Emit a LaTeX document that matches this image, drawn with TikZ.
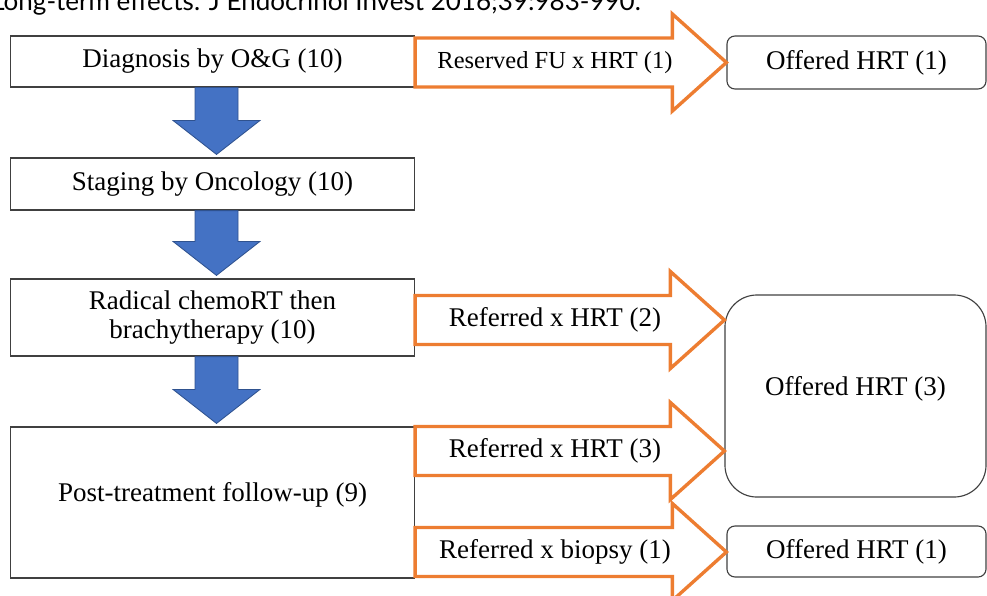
\documentclass[tikz,border=0pt]{standalone}
\usepackage{fontspec}
\setmainfont{Liberation Serif}
\newfontfamily\citefont{Lato}
\usetikzlibrary{calc, positioning}

\begin{document}
\begin{tikzpicture}[x=0.025cm, y=-0.025cm]

    \definecolor{borderColour}{HTML}{404040}
    \definecolor{blueFill}{HTML}{4472C4}
    \definecolor{blueBorder}{HTML}{2F528F}
    \definecolor{orangeLine}{HTML}{ED7D31}

    % Define the arrow sizes (layout units)
    \def\arrowShift{4}
    \def\shaftHalf{21.5}
    \def\headHalf{43.5}
    \def\headLength{34}
    \def\referShaft{24.5}
    \def\referHead{48.5}
    \def\referLength{54}

    \tikzset{
        stepBox/.style={draw=borderColour, line width=0.8pt, inner sep=0pt, minimum width=10.1cm, align=center, font=\fontsize{19.2}{20.6}\selectfont},
        offerBox/.style={draw=borderColour, line width=0.8pt, inner sep=0pt, minimum width=6.475cm, rounded corners=0.2cm, font=\fontsize{19.2}{20.6}\selectfont},
        downArrow/.style={fill=blueFill, draw=blueBorder, line width=0.6pt},
        referArrow/.style={fill=white, draw=orangeLine, line width=2.4pt},
        referLabel/.style={inner sep=0pt, font=\fontsize{19.2}{20.6}\selectfont}
    }

    % Fix the page
    \useasboundingbox (0,0) rectangle (987,595);
    \clip (0,0) rectangle (987,595);

    % Cut-off reference line at the top
    \node[anchor=base west, inner sep=0pt, font=\citefont\fontsize{18.5}{18.5}\selectfont] (citation) at (-9,10) {Long-term effects. J Endocrinol Invest 2016;39:983-990.};

    % Draw the pathway boxes
    \node[stepBox, minimum height=1.275cm] (diag) at (212.5,61.5) {Diagnosis by O\&G (10)};
    \node[stepBox, minimum height=1.3cm] (stag) at (212.5,184) {Staging by Oncology (10)};
    \node[stepBox, minimum height=1.925cm] (chemo) at (212.5,317.5) {Radical chemoRT then\\brachytherapy (10)};
    \node[stepBox, minimum height=3.775cm] (post) at (212.5,502.5) {\raisebox{0.18cm}[\height][\depth]{Post-treatment follow-up (9)}};

    % Draw the outcome boxes
    \node[offerBox, minimum height=1.325cm] (offA) at (856.5,62.5) {Offered HRT (1)};
    \node[offerBox, minimum width=6.525cm, minimum height=5.05cm, rounded corners=0.8cm] (offB) at (855.5,396) {\raisebox{0.18cm}[\height][\depth]{Offered HRT (3)}};
    \node[offerBox, minimum height=1.275cm] (offC) at (856.5,551.5) {Offered HRT (1)};

    % Draw the blue arrows
    \foreach \from/\to in {diag/stag, chemo/post, stag/chemo} {
        \coordinate (S) at ($(\from.south)+(\arrowShift,0)$);
        \coordinate (T) at ($(\to.north)+(\arrowShift,-3)$);
        \draw[downArrow] ($(S)+(-\shaftHalf,0)$) -- ($(T)+(-\shaftHalf,-\headLength)$) -- ($(T)+(-\headHalf,-\headLength)$) -- (T)
            -- ($(T)+(\headHalf,-\headLength)$) -- ($(T)+(\shaftHalf,-\headLength)$) -- ($(S)+(\shaftHalf,0)$) -- cycle;
    }

    % Rows of the orange arrows
    \coordinate (fuRow) at (555,62.5);
    \coordinate (hrtRowA) at (555,320);
    \coordinate (hrtRowB) at (555,451);
    \coordinate (bioRow) at (555,552);

    % Draw the orange arrows
    \foreach \src/\dst/\row in {diag/offA/fuRow, chemo/offB/hrtRowA, post/offB/hrtRowB, post/offC/bioRow} {
        \coordinate (S) at (\src.east |- \row);
        \coordinate (T) at (\dst.west |- \row);
        \draw[referArrow] ($(S)+(0,-\referShaft)$) -- ($(T)+(-\referLength,-\referShaft)$) -- ($(T)+(-\referLength,-\referHead)$) -- (T)
            -- ($(T)+(-\referLength,\referHead)$) -- ($(T)+(-\referLength,\referShaft)$) -- ($(S)+(0,\referShaft)$) -- cycle;
    }

    % Label the orange arrows
    \node[referLabel, font=\fontsize{17.4}{20}\selectfont] (fuText) at (fuRow) {Reserved FU x HRT (1)};
    \node[referLabel] (hrtTextA) at (hrtRowA) {Referred x HRT (2)};
    \node[referLabel] (hrtTextB) at (hrtRowB) {Referred x HRT (3)};
    \node[referLabel] (bioText) at (bioRow) {Referred x biopsy (1)};

\end{tikzpicture}
\end{document}
